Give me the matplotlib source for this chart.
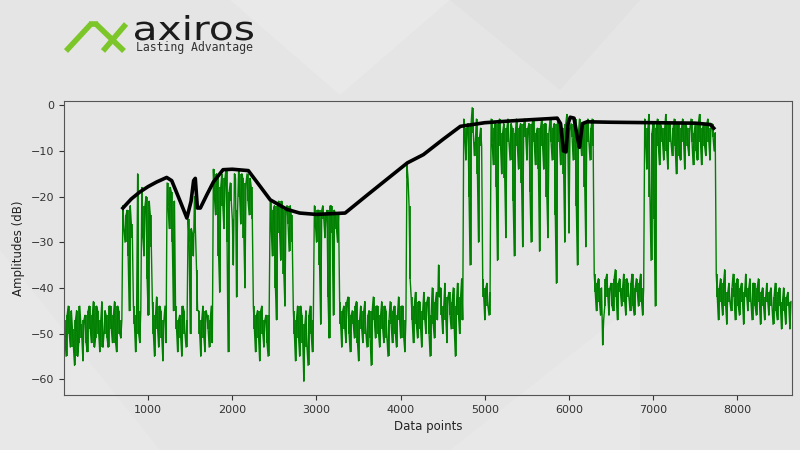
import numpy as np
import matplotlib
matplotlib.use("Agg")
import matplotlib.pyplot as plt
import matplotlib.transforms as mtrans
from matplotlib.patches import Polygon, PathPatch
from matplotlib.textpath import TextPath
from matplotlib.font_manager import FontProperties

# green trace in bins of 25 data points:
# amp at the start of each bin, amp_half half-way through it
step = 25
amp = [
    # noise floor 0-675
    -47, -55, -44, -53, -49, -57, -45, -52, -48, -56, -46, -54,
    -44, -52, -43, -51, -45, -54, -43, -50, -46, -53, -44, -52, -43, -54, -45, -51,
    # bursts 700-1575
    -22, -30, -23, -45, -26,
    -44, -54, -15, -52,
    -18, -33, -20, -46, -24,
    -43, -55, -42, -53, -45, -56, -44,
    -17, -27, -19, -45,
    -44, -54, -46, -55, -45, -53,
    -25, -50, -28,
    -20, -36,
    # 1600-2425
    -45, -55, -44, -54, -46, -53, -44,
    -14, -24, -16, -41, -15, -27, -14, -54, -17, -25, -15, -42, -14, -26, -16, -40, -15, -24, -18,
    -44, -54, -45, -56, -44, -53, -46, -55,
    # 2450-3250
    -21, -33, -22, -47, -21, -34, -23, -44, -22, -32, -24,
    -45, -56, -44, -55, -46, -60.5, -45, -57, -44, -54,
    -22, -30, -23, -48, -22, -29, -23, -51, -22, -46, -24, -30,
    # 3275-4725
    -43, -53, -44, -52, -42, -54, -45, -51, -43, -56, -44, -52, -43, -53, -45, -57,
    -42, -51, -44, -53, -43, -52, -45, -55, -43, -52, -44, -53, -42, -51, -44, -54,
    -13, -22,
    -42, -52, -41, -51, -43, -53, -41, -50, -42, -55, -40, -51, -41, -35, -40, -50,
    -39, -52, -41, -49, -40, -55, -39, -50, -38,
    # 4750-6275
    -3, -12, -4, -35, -0.5, -11, -3, -30, -5,
    -38, -47, -39, -46,
    -3, -13, -4, -34, -3, -15, -4, -29, -3, -12, -5, -33, -3, -14, -4, -31,
    -3, -12, -4, -30, -3, -13, -5, -32, -3, -14, -4, -29, -3, -12, -4, -39,
    -3, -13, -5, -30, -2, -28, -4, -12, -3, -35, -3, -11, -4, -31, -3, -12, -3,
    # 6300-6875
    -37, -45, -38, -46, -52.5, -44, -37, -46, -39, -45, -36, -47,
    -38, -44, -37, -46, -39, -45, -37, -46, -38, -44, -37, -46,
    # 6900-7725
    -3, -14, -2, -34, -4, -44, -3, -13, -5, -12, -2, -14, -4, -11, -3, -15, -4,
    -12, -3, -14, -5, -11, -3, -13, -4, -12, -2, -13, -4, -11, -3, -12, -4, -10,
    # 7750-8625
    -37, -47, -38, -46, -36, -48, -39, -45, -37, -47, -38, -46, -39, -48, -37, -45, -38, -47,
    -39, -46, -38, -48, -40, -47, -39, -46, -40, -48, -39, -47, -40, -49, -40, -48, -41, -49,
]
amp_half = [
    -51, -46, -50, -45, -53, -47, -55, -44, -51, -47, -52, -45,
    -49, -46, -53, -44, -50, -47, -53, -45, -51, -44, -49, -46, -52, -44, -50, -47,
    -27, -24, -33, -22, -29,
    -48, -46, -50, -45,
    -29, -22, -38, -21, -31,
    -50, -46, -49, -44, -51, -47, -52,
    -22, -18, -30, -21,
    -49, -47, -51, -44, -50, -47,
    -30, -27, -33,
    -28, -45,
    -50, -47, -51, -45, -49, -47, -52,
    -20, -15, -33, -18, -22, -16, -30, -19, -21, -35, -16, -23, -20, -15, -29, -17, -21, -16, -25,
    -49, -46, -51, -45, -50, -47, -52, -46,
    -27, -23, -40, -22, -28, -21, -37, -23, -26, -22, -30,
    -50, -47, -51, -44, -52, -48, -53, -46, -50, -47,
    -26, -23, -35, -23, -25, -24, -42, -22, -28, -23, -27, -24,
    -48, -45, -49, -43, -50, -46, -48, -44, -52, -47, -49, -45, -50, -46, -51, -45,
    -47, -44, -50, -46, -49, -44, -51, -47, -48, -45, -50, -46, -47, -44, -51, -47,
    -16, -38,
    -47, -44, -48, -43, -49, -45, -47, -43, -50, -46, -48, -43, -47, -42, -46, -44,
    -47, -42, -46, -43, -49, -44, -46, -42, -47,
    -7, -5, -20, -4, -6, -8, -15, -7, -9,
    -42, -40, -44, -41,
    -8, -5, -18, -4, -9, -6, -16, -5, -8, -4, -21, -6, -9, -5, -17, -4,
    -7, -5, -19, -4, -8, -6, -14, -5, -9, -4, -20, -6, -8, -5, -24, -4,
    -8, -6, -15, -4, -9, -5, -7, -4, -22, -6, -7, -5, -18, -4, -8, -5, -9,
    -41, -39, -43, -40, -47, -38, -42, -40, -44, -38, -42, -39,
    -41, -40, -43, -38, -42, -39, -44, -40, -41, -39, -43, -40,
    -8, -5, -20, -6, -25, -5, -9, -4, -8, -5, -10, -4, -8, -5, -9, -4, -11,
    -5, -8, -4, -9, -5, -8, -6, -10, -4, -8, -5, -9, -4, -8, -5, -7, -6,
    -42, -40, -43, -39, -44, -41, -43, -40, -42, -39, -44, -40, -43, -41, -42, -40, -43, -39,
    -44, -40, -43, -41, -44, -42, -43, -41, -44, -42, -45, -41, -44, -43, -45, -42, -44, -43,
]

# black envelope
env_x = [700, 800, 900, 1000, 1100, 1220, 1280, 1380, 1460, 1510, 1540, 1560, 1585, 1620,
         1700, 1775, 1890, 2000, 2190, 2300, 2450, 2650, 2800, 3000, 3340, 3600, 3850,
         4080, 4270, 4500, 4710, 5000, 5400, 5775, 5860, 5900, 5935, 5965, 5990, 6015,
         6060, 6100, 6125, 6160, 6215, 6500, 7000, 7500, 7680, 7720]
env_y = [-22.5, -20.5, -19, -17.8, -16.8, -15.8, -16.5, -21, -24.7, -21, -16.5, -16, -22.5, -22.5,
         -19.5, -16.8, -14.1, -14, -14.3, -17, -20.7, -22.8, -23.6, -23.9, -23.6, -19.7, -16,
         -12.6, -10.8, -7.5, -4.6, -3.8, -3.3, -2.9, -2.8, -4, -10, -10.2, -4, -2.6,
         -2.8, -7, -9.2, -4, -3.6, -3.7, -3.8, -3.9, -4.2, -5]

a1 = np.array(amp, dtype=float)
a2 = np.array(amp_half, dtype=float)
xb = np.arange(len(a1)) * step
sig = np.empty(2 * len(a1))
sig[0::2] = a1
sig[1::2] = a2
xs = np.arange(len(sig)) * step / 2

fig = plt.figure(figsize=(8, 4.5), dpi=100)
fig.patch.set_facecolor('#e5e5e5')
px = mtrans.Affine2D().scale(1 / 800, 1 / 450) + fig.transFigure  # pixel coords, y up

# soft diagonal shapes in the backdrop
for pts, col in [
    ([(230, 450), (450, 450), (340, 355)], '#e9e9e9'),
    ([(450, 450), (640, 450), (560, 360)], '#e1e1e1'),
    ([(0, 200), (0, 0), (160, 0)], '#e8e8e8'),
    ([(450, 0), (640, 0), (640, 150)], '#e8e8e8'),
]:
    fig.add_artist(Polygon(pts, closed=True, transform=px,
                           facecolor=col, edgecolor='none', zorder=0))

# logo mark
for (x0, y0), (x1, y1) in [((66, 51), (91, 24)), ((89, 24), (98, 24)),
                           ((96, 24), (124, 51)), ((103, 51), (126, 24))]:
    fig.add_artist(plt.Line2D([x0, x1], [450 - y0, 450 - y1], transform=px,
                              color='#7cc629', lw=4, solid_capstyle='butt'))

# logo word, stretched to the width it has in the picture
fp = FontProperties(family='DejaVu Sans')
word = TextPath((0, 0), 'axiros', size=1, prop=fp)
xh = TextPath((0, 0), 'x', size=1, prop=fp).get_extents().height
wb = word.get_extents()
tr = mtrans.Affine2D().translate(-wb.x0, 0).scale(118 / wb.width, 18 / xh).translate(135, 450 - 40)
fig.add_artist(PathPatch(word, transform=tr + px, facecolor='#1c1c1c', edgecolor='none'))
fig.text(136 / 800, 1 - 51 / 450, 'Lasting Advantage', fontsize=8.3, color='#333333',
         family='DejaVu Sans Mono', va='baseline', ha='left')

ax = fig.add_axes([0.080, 0.122, 0.910, 0.654])
ax.set_facecolor('none')
# trace as a line, plus each bin filled from its lowest to its highest reading
ax.plot(xs, sig, color='green', lw=1.0)
ax.vlines(xb + step / 4, np.minimum(a1, a2), np.maximum(a1, a2), colors='green', lw=1.3)
ax.plot(env_x, env_y, color='black', lw=2.6, solid_joinstyle='round')
ax.set_xlim(0, 8650)
ax.set_ylim(-63.5, 1.0)
ax.set_xticks([1000, 2000, 3000, 4000, 5000, 6000, 7000, 8000])
ax.set_yticks([0, -10, -20, -30, -40, -50, -60])
ax.tick_params(labelsize=8, colors='#333333')
for s in ax.spines.values():
    s.set_color('#555555')
    s.set_linewidth(0.8)
ax.set_xlabel('Data points', fontsize=8.5, color='#222222')
ax.set_ylabel('Amplitudes (dB)', fontsize=8.5, color='#222222')

fig.savefig('out.png', dpi=100, facecolor=fig.get_facecolor())
